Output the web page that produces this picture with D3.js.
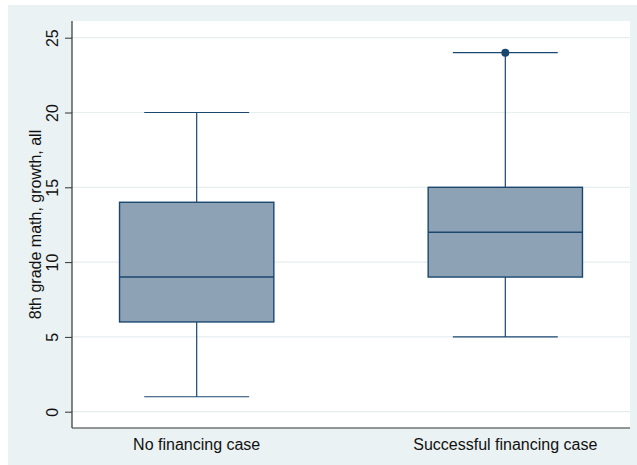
<!DOCTYPE html>
<html>
<head>
<meta charset="utf-8">
<script src="https://cdn.jsdelivr.net/npm/d3@7"></script>
<style>
  body { margin: 0; background: #fff; }
  text { font-family: "Liberation Sans", Arial, sans-serif; fill: #111; }
</style>
</head>
<body>
<div class="chart"></div>
<script>
var groups = ["No financing case", "Successful financing case"];
var lowWhisker = [1, 5];
var q1 = [6, 9];
var medians = [9, 12];
var q3 = [14, 15];
var highWhisker = [20, 24];
var outliers = [[], [24]];
var yTicks = [0, 5, 10, 15, 20, 25];
var yTitle = "8th grade math, growth, all";

var svgWidth = 637;
var svgHeight = 465;

var plot = { left: 72, right: 630, top: 21, bottom: 428 };

var svg = d3.select(".chart")
  .append("svg")
  .attr("width", svgWidth)
  .attr("height", svgHeight);

// outer background
svg.append("rect")
  .attr("x", 8).attr("y", 5)
  .attr("width", svgWidth - 8).attr("height", svgHeight - 5)
  .attr("fill", "#eaf2f3");

// plot region
svg.append("rect")
  .attr("x", plot.left).attr("y", plot.top)
  .attr("width", plot.right - plot.left).attr("height", plot.bottom - plot.top)
  .attr("fill", "#fff");

var yScale = d3.scaleLinear()
  .domain([0, 25])
  .range([411.7, 37.7]);

var xScale = d3.scalePoint()
  .domain(groups)
  .range([plot.left, plot.right])
  .padding(0.404);

var step = xScale.step();
var boxW = step * 0.5;
var capW = step * 0.34;

// gridlines
svg.append("g").selectAll("line")
  .data(yTicks)
  .enter().append("line")
  .attr("x1", plot.left).attr("x2", plot.right)
  .attr("y1", d => yScale(d)).attr("y2", d => yScale(d))
  .attr("stroke", "#e6eef0")
  .attr("stroke-width", 1.2);

// boxes
var navy = "#1a476f";
var rows = groups.map(function(g, i) {
  return { g: g, lo: lowWhisker[i], q1: q1[i], med: medians[i], q3: q3[i], hi: highWhisker[i], out: outliers[i] };
});

var boxes = svg.append("g").selectAll("g")
  .data(rows)
  .enter().append("g")
  .attr("transform", d => `translate(${xScale(d.g)},0)`);

boxes.append("line")
  .attr("x1", 0).attr("x2", 0)
  .attr("y1", d => yScale(d.q3)).attr("y2", d => yScale(d.hi))
  .attr("stroke", navy).attr("stroke-width", 1.2);
boxes.append("line")
  .attr("x1", 0).attr("x2", 0)
  .attr("y1", d => yScale(d.q1)).attr("y2", d => yScale(d.lo))
  .attr("stroke", navy).attr("stroke-width", 1.2);
boxes.append("line")
  .attr("x1", -capW / 2).attr("x2", capW / 2)
  .attr("y1", d => yScale(d.hi)).attr("y2", d => yScale(d.hi))
  .attr("stroke", navy).attr("stroke-width", 1.2);
boxes.append("line")
  .attr("x1", -capW / 2).attr("x2", capW / 2)
  .attr("y1", d => yScale(d.lo)).attr("y2", d => yScale(d.lo))
  .attr("stroke", navy).attr("stroke-width", 1.2);

boxes.append("rect")
  .attr("x", -boxW / 2).attr("width", boxW)
  .attr("y", d => yScale(d.q3))
  .attr("height", d => yScale(d.q1) - yScale(d.q3))
  .attr("fill", "#8ea2b6")
  .attr("stroke", navy).attr("stroke-width", 1.4);

boxes.append("line")
  .attr("x1", -boxW / 2).attr("x2", boxW / 2)
  .attr("y1", d => yScale(d.med)).attr("y2", d => yScale(d.med))
  .attr("stroke", navy).attr("stroke-width", 1.4);

boxes.selectAll("circle")
  .data(d => d.out)
  .enter().append("circle")
  .attr("cx", 0).attr("cy", d => yScale(d))
  .attr("r", 4)
  .attr("fill", navy);

// y axis
var leftAxis = d3.axisLeft(yScale)
  .tickValues(yTicks)
  .tickSize(7)
  .tickPadding(5);

var yAxisG = svg.append("g")
  .attr("transform", `translate(${plot.left},0)`)
  .call(leftAxis);
yAxisG.select(".domain").remove();
yAxisG.selectAll(".tick line").attr("stroke", "#333");
yAxisG.selectAll(".tick text")
  .attr("font-size", 16)
  .attr("text-anchor", "middle")
  .attr("dy", 0)
  .attr("x", 0)
  .attr("transform", "translate(-14,0) rotate(-90)");

svg.append("line")
  .attr("x1", plot.left).attr("x2", plot.left)
  .attr("y1", plot.top).attr("y2", plot.bottom)
  .attr("stroke", "#333").attr("stroke-width", 1.2);

// x axis
svg.append("line")
  .attr("x1", plot.left).attr("x2", plot.right)
  .attr("y1", plot.bottom).attr("y2", plot.bottom)
  .attr("stroke", "#333").attr("stroke-width", 1.2);

svg.append("g").selectAll("text")
  .data(groups)
  .enter().append("text")
  .attr("x", d => xScale(d))
  .attr("y", 449.5)
  .attr("text-anchor", "middle")
  .attr("font-size", 16)
  .text(d => d);

// y axis title
svg.append("text")
  .attr("transform", `translate(40.5, ${(plot.top + plot.bottom) / 2}) rotate(-90)`)
  .attr("text-anchor", "middle")
  .attr("font-size", 16)
  .text(yTitle);
</script>
</body>
</html>
